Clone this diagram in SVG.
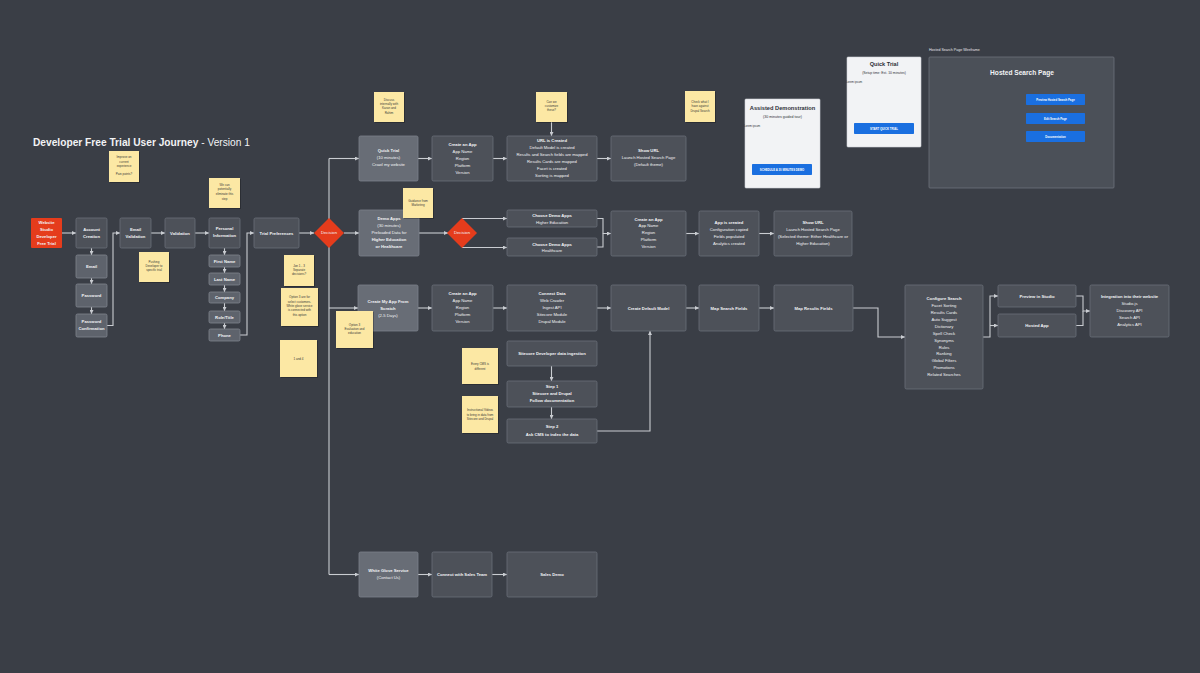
<svg xmlns="http://www.w3.org/2000/svg" width="1200" height="673" viewBox="0 0 1200 673">
<defs>
<marker id="ah" markerUnits="userSpaceOnUse" markerWidth="4" markerHeight="4" refX="4" refY="2" orient="auto"><path d="M0,0 L4,2 L0,4 z" fill="#c9ccd1"/></marker>
<style>
.bg{fill:#3a3e46}
.n{fill:#4d5159;stroke:#6a6f78;stroke-width:0.8}
.l{fill:#686d76;stroke:#7c818a;stroke-width:0.8}
.f{fill:#5e636c;stroke:#80858e;stroke-width:0.8}
.r{fill:#e53c1c}
.s{fill:#fce8a4}
.sh{fill:#000;opacity:0.25}
.t{font-family:"Liberation Sans",Arial,sans-serif;font-size:4.2px;fill:#f2f3f5;text-anchor:middle}
.b{font-weight:bold}
.st{font-family:"Liberation Sans",Arial,sans-serif;font-size:3px;fill:#3a3a3a;text-anchor:middle}
.c{fill:none;stroke:#c9ccd1;stroke-width:1.1}
.card{fill:#f2f3f5;stroke:#d0d3d8;stroke-width:0.6}
.ct{font-family:"Liberation Sans",Arial,sans-serif;fill:#2e3138;text-anchor:middle}
.btn{fill:#1a6fe0}
.bt{font-family:"Liberation Sans",Arial,sans-serif;font-size:2.8px;font-weight:bold;fill:#fff;text-anchor:middle}
</style>
</defs>
<rect class="bg" x="0" y="0" width="1200" height="673"/>

<text x="33" y="146" font-family="Liberation Sans, Arial, sans-serif" font-size="10.2" fill="#f2f3f5"><tspan font-weight="bold">Developer Free Trial User Journey</tspan> - Version 1</text>

<g id="connectors">
<path class="c" marker-end="url(#ah)" d="M62,233 H76"/>
<path class="c" marker-end="url(#ah)" d="M91.5,248 V255"/>
<path class="c" marker-end="url(#ah)" d="M91.5,278 V284"/>
<path class="c" marker-end="url(#ah)" d="M91.5,307 V314"/>
<path class="c" marker-end="url(#ah)" d="M107,325.5 H113 V233 H120"/>
<path class="c" marker-end="url(#ah)" d="M151,233 H165"/>
<path class="c" marker-end="url(#ah)" d="M195,233 H209"/>
<path class="c" marker-end="url(#ah)" d="M224.5,248 V255"/>
<path class="c" marker-end="url(#ah)" d="M224.5,267 V273"/>
<path class="c" marker-end="url(#ah)" d="M224.5,285 V292"/>
<path class="c" marker-end="url(#ah)" d="M224.5,303 V311"/>
<path class="c" marker-end="url(#ah)" d="M224.5,323 V329"/>
<path class="c" marker-end="url(#ah)" d="M240,335 H247 V233 H254"/>
<path class="c" marker-end="url(#ah)" d="M299,233 H314"/>
<path class="c" d="M329,158.5 V574.5"/>
<path class="c" marker-end="url(#ah)" d="M329,158.5 H359"/>
<path class="c" marker-end="url(#ah)" d="M344,233 H359"/>
<path class="c" marker-end="url(#ah)" d="M329,308 H358"/>
<path class="c" marker-end="url(#ah)" d="M329,574.5 H359"/>
<path class="c" marker-end="url(#ah)" d="M418,158.5 H432"/>
<path class="c" marker-end="url(#ah)" d="M493,158.5 H507"/>
<path class="c" marker-end="url(#ah)" d="M597,158.5 H611"/>
<path class="c" marker-end="url(#ah)" d="M551.5,122 V136"/>
<path class="c" marker-end="url(#ah)" d="M419,233 H448"/>
<path class="c" marker-end="url(#ah)" d="M462,218.5 H507"/>
<path class="c" marker-end="url(#ah)" d="M462,247.5 H507"/>
<path class="c" marker-end="url(#ah)" d="M597,218.5 H603 V233.5 H611"/>
<path class="c" d="M597,247 H603 V233.5"/>
<path class="c" marker-end="url(#ah)" d="M686,233.5 H699"/>
<path class="c" marker-end="url(#ah)" d="M759,233.5 H774"/>
<path class="c" marker-end="url(#ah)" d="M418,308 H432"/>
<path class="c" marker-end="url(#ah)" d="M493,308 H507"/>
<path class="c" marker-end="url(#ah)" d="M597,308 H611"/>
<path class="c" marker-end="url(#ah)" d="M686,308 H699"/>
<path class="c" marker-end="url(#ah)" d="M759,308 H774"/>
<path class="c" marker-end="url(#ah)" d="M853,308 H878 V337 H905"/>
<path class="c" marker-end="url(#ah)" d="M983,337 H990 V296 H998"/>
<path class="c" marker-end="url(#ah)" d="M990,325.5 H998"/>
<path class="c" marker-end="url(#ah)" d="M1076,296 H1083 V311 H1090"/>
<path class="c" d="M1076,325.5 H1083 V311"/>
<path class="c" marker-end="url(#ah)" d="M551.5,366 V381"/>
<path class="c" marker-end="url(#ah)" d="M551.5,407 V419"/>
<path class="c" marker-end="url(#ah)" d="M597,431 H650 V331"/>
<path class="c" marker-end="url(#ah)" d="M418,574.5 H432"/>
<path class="c" marker-end="url(#ah)" d="M492,574.5 H507"/>
</g>

<g id="website-studio"><rect class="r" x="31" y="218" width="31" height="30" rx="1"/>
<text class="t b"><tspan x="46.5" y="223.5">Website</tspan><tspan x="46.5" y="230.5">Studio</tspan><tspan x="46.5" y="237.5">Developer</tspan><tspan x="46.5" y="244.5">Free Trial</tspan></text></g>
<g id="account-creation"><rect class="n" x="76" y="218" width="31" height="30" rx="1.5"/>
<text class="t b"><tspan x="91.5" y="231">Account</tspan><tspan x="91.5" y="238">Creation</tspan></text></g>
<g id="email"><rect class="f" x="76" y="255" width="31" height="23" rx="1.5"/><text class="t b" x="91.5" y="268">Email</text></g>
<g id="password"><rect class="f" x="76" y="284" width="31" height="23" rx="1.5"/><text class="t b" x="91.5" y="297">Password</text></g>
<g id="password-confirmation"><rect class="f" x="76" y="314" width="31" height="23" rx="1.5"/>
<text class="t b"><tspan x="91.5" y="323.2">Password</tspan><tspan x="91.5" y="330">Confirmation</tspan></text></g>
<g id="email-validation"><rect class="n" x="120" y="218" width="31" height="30" rx="1.5"/>
<text class="t b"><tspan x="135.5" y="230.5">Email</tspan><tspan x="135.5" y="237.5">Validation</tspan></text></g>
<g id="validation"><rect class="n" x="165" y="218" width="30" height="30" rx="1.5"/><text class="t b" x="180" y="234.5">Validation</text></g>
<g id="personal-information"><rect class="n" x="209" y="218" width="31" height="30" rx="1.5"/>
<text class="t b"><tspan x="224.5" y="229.8">Personal</tspan><tspan x="224.5" y="237.2">Information</tspan></text></g>
<g id="first-name"><rect class="f" x="209" y="255" width="31" height="12" rx="1.5"/><text class="t b" x="224.5" y="262.5">First Name</text></g>
<g id="last-name"><rect class="f" x="209" y="273" width="31" height="12" rx="1.5"/><text class="t b" x="224.5" y="280.5">Last Name</text></g>
<g id="company"><rect class="f" x="209" y="292" width="31" height="11" rx="1.5"/><text class="t b" x="224.5" y="299">Company</text></g>
<g id="role-title"><rect class="f" x="209" y="311" width="31" height="12" rx="1.5"/><text class="t b" x="224.5" y="318.5">Role/Title</text></g>
<g id="phone"><rect class="f" x="209" y="329" width="31" height="12" rx="1.5"/><text class="t b" x="224.5" y="336.5">Phone</text></g>
<g id="trial-preferences"><rect class="n" x="254" y="218" width="45" height="30" rx="1.5"/><text class="t b" x="276.5" y="234.5">Trial Preferences</text></g>
<g id="decision-1"><path class="r" d="M329,218 L344,233 L329,248 L314,233 z"/><text class="t" x="329" y="234.4" font-size="3.8">Decision</text></g>

<g id="quick-trial"><rect class="l" x="359" y="136" width="59" height="45" rx="1.5"/>
<text class="t"><tspan class="b" x="388.5" y="152.2">Quick Trial</tspan><tspan x="388.5" y="159">(10 minutes)</tspan><tspan x="388.5" y="166">Crawl my website</tspan></text></g>
<g id="create-app-1"><rect class="n" x="432" y="136" width="61" height="45" rx="1.5"/>
<text class="t"><tspan class="b" x="462.5" y="145.8">Create an App</tspan><tspan x="462.5" y="152.8">App Name</tspan><tspan x="462.5" y="159.6">Region</tspan><tspan x="462.5" y="166.5">Platform</tspan><tspan x="462.5" y="173.5">Version</tspan></text></g>
<g id="url-created"><rect class="n" x="507" y="136" width="90" height="45" rx="1.5"/>
<text class="t"><tspan class="b" x="552" y="142.2">URL is Created</tspan><tspan x="552" y="149">Default Model is created</tspan><tspan x="552" y="156">Results and Search fields are mapped</tspan><tspan x="552" y="163">Results Cards are mapped</tspan><tspan x="552" y="169.8">Facet is created</tspan><tspan x="552" y="176.6">Sorting is mapped</tspan></text></g>
<g id="show-url-1"><rect class="n" x="611" y="136" width="75" height="45" rx="1.5"/>
<text class="t"><tspan class="b" x="648.5" y="152.2">Show URL</tspan><tspan x="648.5" y="159">Launch Hosted Search Page</tspan><tspan x="648.5" y="166">(Default theme)</tspan></text></g>

<g id="demo-apps"><rect class="l" x="359" y="210" width="60" height="46" rx="1.5"/>
<text class="t"><tspan class="b" x="389" y="219.8">Demo Apps</tspan><tspan x="389" y="226.5">(30 minutes)</tspan><tspan x="389" y="233.8">Preloaded Data for</tspan><tspan class="b" x="389" y="240.5">Higher Education</tspan><tspan class="b" x="389" y="247.5">or Healthcare</tspan></text></g>
<g id="decision-2"><path class="r" d="M462,218 L477,233 L462,248 L447,233 z"/><text class="t" x="462" y="234.4" font-size="3.8">Decision</text></g>
<g id="choose-higher-ed"><rect class="n" x="507" y="210" width="90" height="17" rx="1.5"/>
<text class="t"><tspan class="b" x="552" y="217.2">Choose Demo Apps</tspan><tspan x="552" y="223.8">Higher Education</tspan></text></g>
<g id="choose-healthcare"><rect class="n" x="507" y="238" width="90" height="18" rx="1.5"/>
<text class="t"><tspan class="b" x="552" y="245.5">Choose Demo Apps</tspan><tspan x="552" y="252.2">Healthcare</tspan></text></g>
<g id="create-app-2"><rect class="n" x="611" y="211" width="75" height="45" rx="1.5"/>
<text class="t"><tspan class="b" x="648.5" y="220.5">Create an App</tspan><tspan x="648.5" y="227.2">App Name</tspan><tspan x="648.5" y="234.2">Region</tspan><tspan x="648.5" y="241.2">Platform</tspan><tspan x="648.5" y="248.2">Version</tspan></text></g>
<g id="app-created"><rect class="n" x="699" y="211" width="60" height="45" rx="1.5"/>
<text class="t"><tspan class="b" x="729" y="224.2">App is created</tspan><tspan x="729" y="231.2">Configuration copied</tspan><tspan x="729" y="238.2">Fields populated</tspan><tspan x="729" y="245.2">Analytics created</tspan></text></g>
<g id="show-url-2"><rect class="n" x="774" y="211" width="78" height="45" rx="1.5"/>
<text class="t"><tspan class="b" x="813" y="224.2">Show URL</tspan><tspan x="813" y="231.2">Launch Hosted Search Page</tspan><tspan x="813" y="238.2">(Selected theme: Either Healthcare or</tspan><tspan x="813" y="245.2">Higher Education)</tspan></text></g>

<g id="create-from-scratch"><rect class="l" x="358" y="285" width="60" height="46" rx="1.5"/>
<text class="t"><tspan class="b" x="388" y="302.5">Create My App From</tspan><tspan class="b" x="388" y="309.5">Scratch</tspan><tspan x="388" y="316.5">(2-5 Days)</tspan></text></g>
<g id="create-app-3"><rect class="n" x="432" y="285" width="61" height="46" rx="1.5"/>
<text class="t"><tspan class="b" x="462.5" y="294.8">Create an App</tspan><tspan x="462.5" y="301.8">App Name</tspan><tspan x="462.5" y="308.8">Region</tspan><tspan x="462.5" y="315.8">Platform</tspan><tspan x="462.5" y="322.8">Version</tspan></text></g>
<g id="connect-data"><rect class="n" x="507" y="285" width="90" height="46" rx="1.5"/>
<text class="t"><tspan class="b" x="552" y="294.8">Connect Data</tspan><tspan x="552" y="301.8">Web Crawler</tspan><tspan x="552" y="308.8">Ingest API</tspan><tspan x="552" y="315.8">Sitecore Module</tspan><tspan x="552" y="322.8">Drupal Module</tspan></text></g>
<g id="create-default-model"><rect class="n" x="611" y="285" width="75" height="46" rx="1.5"/><text class="t b" x="648.5" y="309.5">Create Default Model</text></g>
<g id="map-search-fields"><rect class="n" x="699" y="285" width="60" height="46" rx="1.5"/><text class="t b" x="729" y="309.5">Map Search Fields</text></g>
<g id="map-results-fields"><rect class="n" x="774" y="285" width="79" height="46" rx="1.5"/><text class="t b" x="813.5" y="309.5">Map Results Fields</text></g>
<g id="configure-search"><rect class="n" x="905" y="285" width="78" height="104" rx="1.5"/>
<text class="t"><tspan class="b" x="944" y="299.8">Configure Search</tspan><tspan x="944" y="306.8">Facet Sorting</tspan><tspan x="944" y="313.8">Results Cards</tspan><tspan x="944" y="320.8">Auto Suggest</tspan><tspan x="944" y="327.8">Dictionary</tspan><tspan x="944" y="334.5">Spell Check</tspan><tspan x="944" y="341.5">Synonyms</tspan><tspan x="944" y="348.5">Rules</tspan><tspan x="944" y="355.2">Ranking</tspan><tspan x="944" y="362.2">Global Filters</tspan><tspan x="944" y="369.2">Promotions</tspan><tspan x="944" y="376.2">Related Searches</tspan></text></g>
<g id="preview-studio"><rect class="n" x="998" y="285" width="78" height="22" rx="1.5"/><text class="t b" x="1037" y="297.5">Preview in Studio</text></g>
<g id="hosted-app"><rect class="n" x="998" y="314" width="78" height="23" rx="1.5"/><text class="t b" x="1037" y="327">Hosted App</text></g>
<g id="integration"><rect class="n" x="1090" y="285" width="79" height="52" rx="1.5"/>
<text class="t"><tspan class="b" x="1129.5" y="297.8">Integration into their website</tspan><tspan x="1129.5" y="304.8">Studio.js</tspan><tspan x="1129.5" y="311.8">Discovery API</tspan><tspan x="1129.5" y="318.8">Search API</tspan><tspan x="1129.5" y="325.5">Analytics API</tspan></text></g>

<g id="sitecore-ingestion"><rect class="n" x="507" y="341" width="90" height="25" rx="1.5"/><text class="t b" x="552" y="355">Sitecore Developer data ingestion</text></g>
<g id="step-1"><rect class="n" x="507" y="381" width="90" height="26" rx="1.5"/>
<text class="t b"><tspan x="552" y="387.5">Step 1</tspan><tspan x="552" y="394.5">Sitecore and Drupal</tspan><tspan x="552" y="401.8">Follow documentation</tspan></text></g>
<g id="step-2"><rect class="n" x="507" y="419" width="90" height="24" rx="1.5"/>
<text class="t b"><tspan x="552" y="427.5">Step 2</tspan><tspan x="552" y="435.5">Ask CMS to index the data</tspan></text></g>

<g id="white-glove"><rect class="l" x="359" y="552" width="59" height="45" rx="1.5"/>
<text class="t"><tspan class="b" x="388.5" y="572.2">White Glove Service</tspan><tspan x="388.5" y="578.8">(Contact Us)</tspan></text></g>
<g id="connect-sales"><rect class="n" x="432" y="552" width="60" height="45" rx="1.5"/><text class="t b" x="462" y="576">Connect with Sales Team</text></g>
<g id="sales-demo"><rect class="n" x="507" y="552" width="90" height="45" rx="1.5"/><text class="t b" x="552" y="576">Sales Demo</text></g>

<g id="note-improve"><rect class="sh" x="110" y="152" width="30" height="31"/><rect class="s" x="109" y="151" width="30" height="31"/>
<text class="st"><tspan x="124" y="157.7">Improve on</tspan><tspan x="124" y="162.7">current</tspan><tspan x="124" y="167">experience</tspan><tspan x="124" y="174.7">Pain points?</tspan></text></g>
<g id="note-pushing"><rect class="sh" x="140" y="253" width="30" height="30"/><rect class="s" x="139" y="252" width="30" height="30"/>
<text class="st"><tspan x="154" y="262.7">Pushing</tspan><tspan x="154" y="267">Developer to</tspan><tspan x="154" y="271.3">specific trial</tspan></text></g>
<g id="note-eliminate"><rect class="sh" x="210" y="179" width="31" height="30"/><rect class="s" x="209" y="178" width="31" height="30"/>
<text class="st"><tspan x="224.5" y="186">We can</tspan><tspan x="224.5" y="190.3">potentially</tspan><tspan x="224.5" y="195">eliminate this</tspan><tspan x="224.5" y="199.7">step</tspan></text></g>
<g id="note-jon"><rect class="sh" x="285" y="256" width="30" height="31"/><rect class="s" x="284" y="255" width="30" height="31"/>
<text class="st"><tspan x="299" y="266.7">Jon 1 - 3</tspan><tspan x="299" y="270.7">Separate</tspan><tspan x="299" y="275">decisions?</tspan></text></g>
<g id="note-option3"><rect class="sh" x="282" y="289" width="37" height="38"/><rect class="s" x="281" y="288" width="37" height="38"/>
<text class="st"><tspan x="299.5" y="298.3">Option 3 are for</tspan><tspan x="299.5" y="302.7">select customers.</tspan><tspan x="299.5" y="307">White glove service</tspan><tspan x="299.5" y="311.3">is connected with</tspan><tspan x="299.5" y="315.7">this option</tspan></text></g>
<g id="note-1and4"><rect class="sh" x="281" y="341" width="37" height="37"/><rect class="s" x="280" y="340" width="37" height="37"/>
<text class="st" x="298.5" y="359.5">1 and 4</text></g>
<g id="note-discuss"><rect class="sh" x="375" y="93" width="30" height="30"/><rect class="s" x="374" y="92" width="30" height="30"/>
<text class="st"><tspan x="389" y="100.7">Discuss</tspan><tspan x="389" y="105">internally with</tspan><tspan x="389" y="109.3">Karan and</tspan><tspan x="389" y="113.7">Rahim</tspan></text></g>
<g id="note-customize"><rect class="sh" x="537" y="93" width="31" height="30"/><rect class="s" x="536" y="92" width="31" height="30"/>
<text class="st"><tspan x="551.5" y="102.7">Can we</tspan><tspan x="551.5" y="106.7">customize</tspan><tspan x="551.5" y="111">these?</tspan></text></g>
<g id="note-drupal"><rect class="sh" x="686" y="92" width="30" height="31"/><rect class="s" x="685" y="91" width="30" height="31"/>
<text class="st"><tspan x="700" y="102.7">Check what I</tspan><tspan x="700" y="107">have against</tspan><tspan x="700" y="111.7">Drupal Search</tspan></text></g>
<g id="note-marketing"><rect class="sh" x="404" y="189" width="30" height="30"/><rect class="s" x="403" y="188" width="30" height="30"/>
<text class="st"><tspan x="418" y="201.7">Guidance from</tspan><tspan x="418" y="206">Marketing</tspan></text></g>
<g id="note-evaluation"><rect class="sh" x="337" y="312" width="37" height="37"/><rect class="s" x="336" y="311" width="37" height="37"/>
<text class="st"><tspan x="354.5" y="326">Option 3</tspan><tspan x="354.5" y="330.3">Evaluation and</tspan><tspan x="354.5" y="334.3">education</tspan></text></g>
<g id="note-cms"><rect class="sh" x="463" y="349" width="36" height="36"/><rect class="s" x="462" y="348" width="36" height="36"/>
<text class="st"><tspan x="480" y="365">Every CMS is</tspan><tspan x="480" y="369.7">different</tspan></text></g>
<g id="note-videos"><rect class="sh" x="463" y="397" width="36" height="37"/><rect class="s" x="462" y="396" width="36" height="37"/>
<text class="st" font-size="2.8"><tspan x="480" y="411">Instructional Videos</tspan><tspan x="480" y="416">to bring in data from</tspan><tspan x="480" y="420.3">Sitecore and Drupal</tspan></text></g>

<g id="card-assisted-demo"><rect class="card" x="745" y="99" width="75" height="89" rx="1"/>
<text class="ct" x="782.5" y="110" font-size="5.7" font-weight="bold">Assisted Demonstration</text>
<text class="ct" x="782.5" y="117.5" font-size="3.6">(30 minutes guided tour)</text>
<text class="ct" x="752" y="126.5" font-size="2.8" text-anchor="start">Lorem ipsum</text>
<rect class="btn" x="752" y="164" width="60" height="11" rx="0.8"/><text class="bt" x="782" y="170.5">SCHEDULE A 30 MINUTES DEMO</text></g>
<g id="card-quick-trial"><rect class="card" x="847" y="57" width="74" height="90" rx="1"/>
<text class="ct" x="884" y="66.3" font-size="5.6" font-weight="bold">Quick Trial</text>
<text class="ct" x="884" y="73.8" font-size="3.4">(Setup time: Est. 10 minutes)</text>
<text class="ct" x="854" y="83" font-size="2.8" text-anchor="start">Lorem ipsum</text>
<rect class="btn" x="854" y="123" width="60" height="11" rx="0.8"/><text class="bt" x="884" y="129.5">START QUICK TRIAL</text></g>
<g id="hosted-search-wireframe">
<text x="929" y="51" font-family="Liberation Sans, Arial, sans-serif" font-size="3.6" fill="#e6e7ea">Hosted Search Page Wireframe</text>
<rect x="929" y="57" width="185" height="131" fill="#4b5058" stroke="#6d727b" stroke-width="0.8" rx="1"/>
<text x="1022" y="74.5" font-family="Liberation Sans, Arial, sans-serif" font-size="6.6" font-weight="bold" fill="#f2f3f5" text-anchor="middle">Hosted Search Page</text>
<rect class="btn" x="1026" y="94" width="59" height="11" rx="0.8"/><text class="bt" x="1055.5" y="100.5">Preview Hosted Search Page</text>
<rect class="btn" x="1026" y="113" width="59" height="11" rx="0.8"/><text class="bt" x="1055.5" y="119.5">Edit Search Page</text>
<rect class="btn" x="1026" y="131" width="59" height="11" rx="0.8"/><text class="bt" x="1055.5" y="137.5">Documentation</text>
</g>
</svg>
